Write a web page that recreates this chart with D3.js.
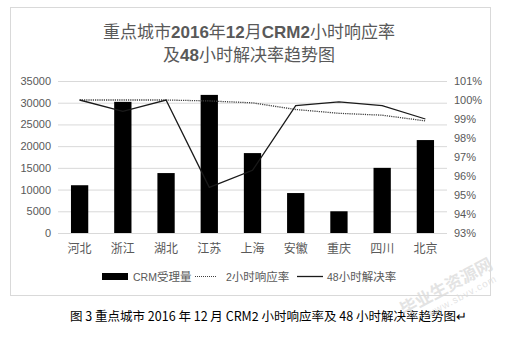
<!DOCTYPE html>
<html>
<head>
<meta charset="utf-8">
<script src="https://d3js.org/d3.v7.min.js"></script>
<style>
  body { margin: 0; background: #fff; }
  text { font-family: "Liberation Sans", "Noto Sans CJK SC", sans-serif; }
</style>
</head>
<body>
<svg id="chart" width="517" height="342"></svg>
<script>
  var cities = ["河北", "浙江", "湖北", "江苏", "上海", "安徽", "重庆", "四川", "北京"];
  var crmVolume = [11000, 30200, 13800, 31800, 18400, 9200, 5000, 15000, 21400];
  var resp2h = [100.0, 100.0, 100.0, 99.95, 99.85, 99.5, 99.3, 99.2, 98.9];
  var solve48h = [100.0, 99.4, 100.0, 95.4, 96.3, 99.7, 99.9, 99.7, 99.0];
  var leftTicks = [0, 5000, 10000, 15000, 20000, 25000, 30000, 35000];
  var rightTicks = [93, 94, 95, 96, 97, 98, 99, 100, 101];

  var svg = d3.select("#chart");
  var grey = "#595959";

  // chart frame
  svg.append("rect")
    .attr("x", 10.5).attr("y", 7.5)
    .attr("width", 480).attr("height", 288)
    .attr("fill", "#fff").attr("stroke", "#d9d9d9");

  // title
  var title = svg.append("text")
    .attr("text-anchor", "middle")
    .attr("fill", grey)
    .style("font-size", "17px");
  title.append("tspan").attr("x", 249).attr("y", 38)
    .html('重点城市<tspan font-weight="bold">2016</tspan>年<tspan font-weight="bold">12</tspan>月<tspan font-weight="bold">CRM2</tspan>小时响应率');
  title.append("tspan").attr("x", 249).attr("y", 61)
    .html('及<tspan font-weight="bold">48</tspan>小时解决率趋势图');

  var plotL = 58, plotR = 447, plotT = 81, plotB = 233;

  var x = d3.scaleBand().domain(cities).range([plotL, plotR]).paddingInner(0.6).paddingOuter(0.3);
  var xc = d3.scalePoint().domain(cities).range([plotL, plotR]).padding(0.5);
  var y = d3.scaleLinear().domain([0, 35000]).range([plotB, plotT]);
  var y2 = d3.scaleLinear().domain([93, 101]).range([plotB, plotT]);

  // gridlines
  svg.append("g")
    .attr("transform", "translate(" + plotL + ",0)")
    .call(d3.axisLeft(y).tickValues(leftTicks).tickSize(-(plotR - plotL)).tickFormat(""))
    .call(function(g) { g.select(".domain").remove(); })
    .selectAll("line").attr("stroke", "#d9d9d9");

  // left axis labels
  svg.append("g").selectAll("text")
    .data(leftTicks).join("text")
    .attr("x", 51).attr("y", function(d) { return y(d) + 4; })
    .attr("text-anchor", "end")
    .attr("fill", grey)
    .style("font-size", "11px")
    .text(function(d) { return d; });

  // right axis labels
  svg.append("g").selectAll("text")
    .data(rightTicks).join("text")
    .attr("x", 454).attr("y", function(d) { return y2(d) + 4; })
    .attr("fill", grey)
    .style("font-size", "11px")
    .text(function(d) { return d + "%"; });

  // bars
  svg.append("g").selectAll("rect")
    .data(crmVolume).join("rect")
    .attr("x", function(d, i) { return x(cities[i]); })
    .attr("y", function(d) { return y(d); })
    .attr("width", x.bandwidth())
    .attr("height", function(d) { return plotB - y(d); })
    .attr("fill", "#000");

  // lines
  var line2 = d3.line()
    .x(function(d, i) { return xc(cities[i]); })
    .y(function(d) { return y2(d); });

  svg.append("path")
    .datum(resp2h)
    .attr("fill", "none")
    .attr("stroke", "#404040")
    .attr("stroke-width", 1.3)
    .attr("stroke-dasharray", "1.2,1")
    .attr("d", line2);

  svg.append("path")
    .datum(solve48h)
    .attr("fill", "none")
    .attr("stroke", "#1a1a1a")
    .attr("stroke-width", 1.3)
    .attr("d", line2);

  // x labels
  svg.append("g").selectAll("text")
    .data(cities).join("text")
    .attr("x", function(d) { return xc(d); })
    .attr("y", 253)
    .attr("text-anchor", "middle")
    .attr("fill", grey)
    .style("font-size", "12px")
    .text(function(d) { return d; });

  // legend
  var lg = svg.append("g").attr("fill", grey).style("font-size", "11.5px");
  lg.append("rect").attr("x", 102).attr("y", 273).attr("width", 26).attr("height", 7).attr("fill", "#000");
  lg.append("text").attr("x", 133).attr("y", 281).html('<tspan font-size="10.5px">CRM</tspan>受理量');
  lg.append("line").attr("x1", 195).attr("x2", 216).attr("y1", 276.5).attr("y2", 276.5)
    .attr("stroke", "#404040").attr("stroke-width", 1.2).attr("stroke-dasharray", "1,1");
  lg.append("text").attr("x", 226).attr("y", 281).html('<tspan font-size="10.5px">2</tspan>小时响应率');
  lg.append("line").attr("x1", 297).attr("x2", 323).attr("y1", 276.5).attr("y2", 276.5)
    .attr("stroke", "#1a1a1a").attr("stroke-width", 1.3);
  lg.append("text").attr("x", 327).attr("y", 281).html('<tspan font-size="10.5px">48</tspan>小时解决率');

  // caption
  svg.append("text")
    .attr("x", 70).attr("y", 321)
    .attr("fill", "#000")
    .style("font-size", "12.5px")
    .style("font-family", "'Noto Sans CJK SC', sans-serif")
    .text("图 3 重点城市 2016 年 12 月 CRM2 小时响应率及 48 小时解决率趋势图↵");

  // watermark
  var wm = svg.append("g").attr("transform", "translate(404,316) rotate(-28)")
    .attr("fill", "#dcdcdc").attr("fill-opacity", 0.8);
  wm.append("text").attr("x", 0).attr("y", 0).style("font-size", "17px").style("font-weight", "bold").text("毕业生资源网");
  wm.append("text").attr("x", 22).attr("y", 13).style("font-size", "10px").style("letter-spacing", "1px").text("www.sbvv.com");
</script>
</body>
</html>
